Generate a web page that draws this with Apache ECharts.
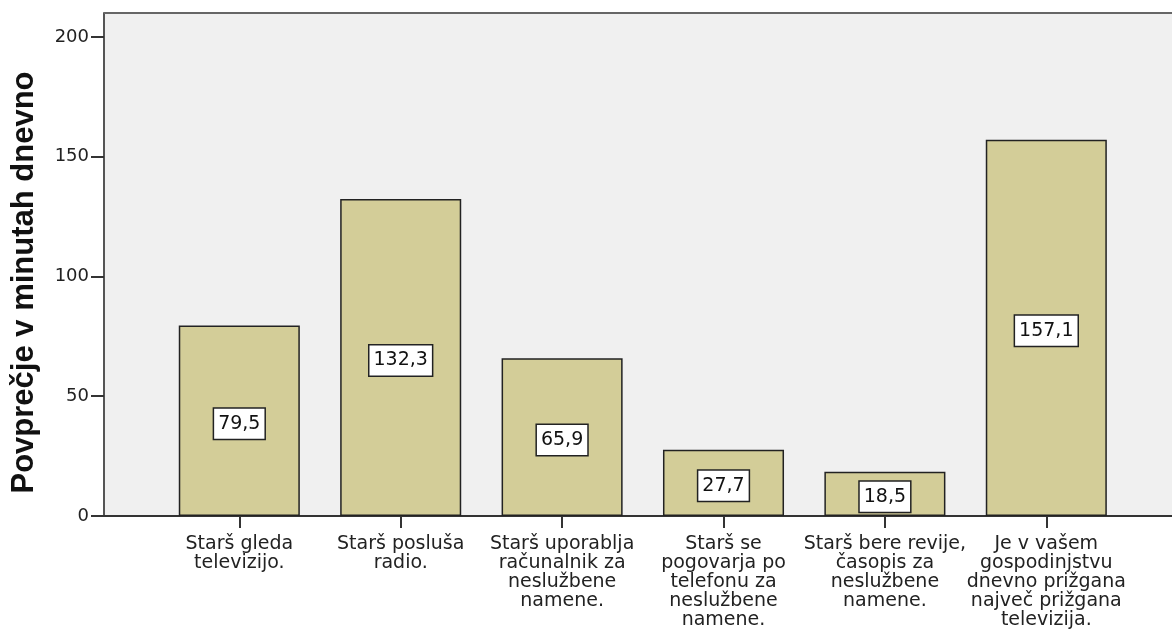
<!DOCTYPE html>
<html>
<head>
<meta charset="utf-8">
<script src="https://cdn.jsdelivr.net/npm/echarts@6/dist/echarts.min.js"></script>
<style>
  html, body { margin: 0; padding: 0; background: #fff; }
  #chart { width: 1172px; height: 635px; }
</style>
</head>
<body>
<div id="chart"></div>
<script>
const categories = [
  "Starš gleda\ntelevizijo.",
  "Starš posluša\nradio.",
  "Starš uporablja\nračunalnik za\nneslužbene\nnamene.",
  "Starš se\npogovarja po\ntelefonu za\nneslužbene\nnamene.",
  "Starš bere revije,\nčasopis za\nneslužbene\nnamene.",
  "Je v vašem\ngospodinjstvu\ndnevno prižgana\nnajveč prižgana\ntelevizija."
];
const meanMinutes = [79.5, 132.3, 65.9, 27.7, 18.5, 157.1];
const yTicks = [0, 50, 100, 150, 200];
const yTitle = "Povprečje v minutah dnevno";

const W = 1172, H = 635;
const plotLeft = 104, plotTop = 13, plotBottom = 516;
const gridLeft = 158.6, gridRight = 45;

const chart = echarts.init(document.getElementById('chart'), null, { renderer: 'canvas' });
const font = 'DejaVu Sans';

chart.setOption({
  animation: false,
  backgroundColor: '#ffffff',
  grid: { left: gridLeft, right: gridRight, top: plotTop, bottom: H - plotBottom, containLabel: false },
  graphic: [
    { type: 'rect', z: -10, silent: true,
      shape: { x: plotLeft, y: plotTop, width: W - plotLeft + 2, height: plotBottom - plotTop },
      style: { fill: '#f0f0f0' } },
    { type: 'line', z: 1, silent: true,
      shape: { x1: plotLeft, y1: plotTop, x2: W + 2, y2: plotTop },
      style: { stroke: '#666', lineWidth: 2 } },
    { type: 'line', z: 1, silent: true,
      shape: { x1: plotLeft - 1, y1: plotBottom, x2: W + 2, y2: plotBottom },
      style: { stroke: '#333', lineWidth: 2 } }
  ],
  xAxis: {
    type: 'category',
    data: categories,
    boundaryGap: true,
    axisLine: { show: false },
    axisTick: { show: true, alignWithLabel: true, length: 12, lineStyle: { color: '#333', width: 2 } },
    axisLabel: {
      interval: 0, margin: 19, color: '#222', fontFamily: font, fontSize: 19,
      lineHeight: 19, align: 'center'
    },
    splitLine: { show: false }
  },
  yAxis: {
    type: 'value',
    min: 0, max: 210,
    offset: gridLeft - plotLeft,
    name: yTitle,
    nameLocation: 'middle',
    nameRotate: 90,
    nameGap: 64,
    nameTextStyle: { fontFamily: 'Liberation Sans', fontWeight: 'bold', fontSize: 31, color: '#111', padding: [0, 36, 0, 0] },
    axisLine: { show: true, lineStyle: { color: '#555', width: 2 } },
    axisTick: { show: true, length: 13, customValues: yTicks, lineStyle: { color: '#333', width: 2 } },
    axisLabel: { customValues: yTicks, margin: 15, color: '#222', fontFamily: font, fontSize: 18 },
    splitLine: { show: false }
  },
  series: [{
    type: 'bar',
    data: meanMinutes,
    barCategoryGap: '25%',
    itemStyle: { color: '#d3cd98', borderColor: '#222', borderWidth: 1.5 },
    label: {
      show: true, position: 'inside', offset: [0, 3],
      formatter: p => String(p.value).replace('.', ','),
      color: '#111', fontFamily: font, fontSize: 19,
      backgroundColor: '#ffffff', borderColor: '#222', borderWidth: 1.5,
      padding: [6, 4, 5, 4]
    }
  }]
});
</script>
</body>
</html>
